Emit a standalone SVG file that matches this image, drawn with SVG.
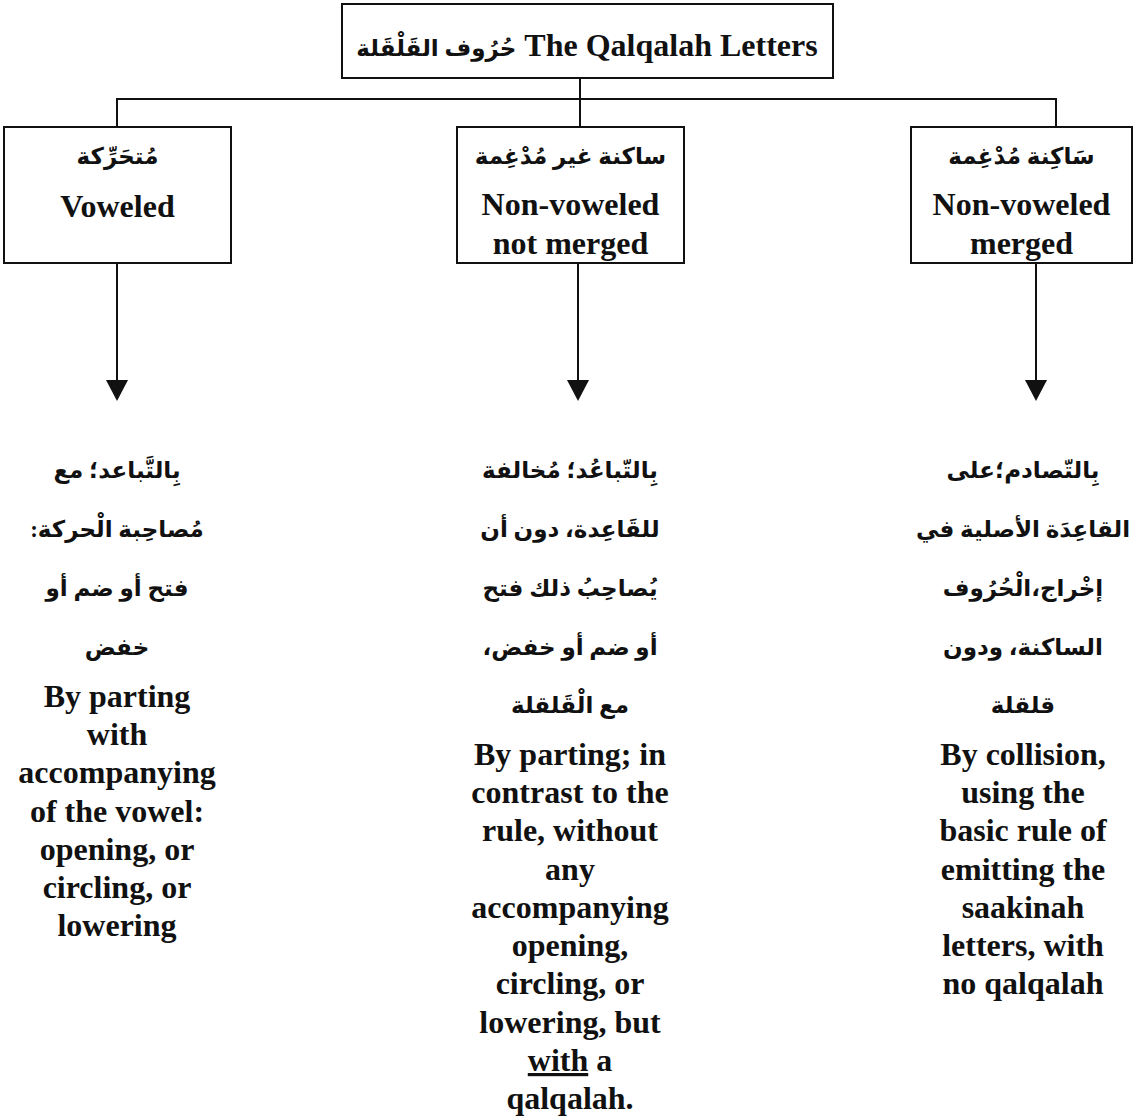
<svg xmlns="http://www.w3.org/2000/svg" width="1142" height="1117" viewBox="0 0 1142 1117">
<defs>
<style>
.box{fill:#fff;stroke:#111;stroke-width:2}
.ln{fill:none;stroke:#111;stroke-width:2}
.en{font-family:"Liberation Serif","Times New Roman",serif;font-weight:bold;font-size:32px;fill:#111;text-anchor:middle}
.ar{font-family:"Liberation Serif","DejaVu Sans",serif;font-weight:bold;font-size:23px;fill:#111;text-anchor:middle;direction:rtl;unicode-bidi:embed}
.ah{fill:#111}
</style>
</defs>
<rect width="1142" height="1117" fill="#fff"/>
<g id="connectors">
<path class="ln" d="M580,78 V127"/>
<path class="ln" d="M117,127 V99 H1056 V127"/>
<path class="ln" d="M117,263 V381"/>
<path class="ah" d="M106,380 L128,380 L117,401 Z"/>
<path class="ln" d="M578,263 V381"/>
<path class="ah" d="M567,380 L589,380 L578,401 Z"/>
<path class="ln" d="M1036,263 V381"/>
<path class="ah" d="M1025,380 L1047,380 L1036,401 Z"/>
</g>
<g id="title">
<rect class="box" x="342" y="4" width="491" height="74"/>
<text class="en" x="587" y="56"><tspan font-family="'Liberation Serif','DejaVu Sans',serif" font-size="23">حُرُوف القَلْقَلة</tspan> The Qalqalah Letters</text>
</g>
<g id="voweled">
<rect class="box" x="4" y="127" width="227" height="136"/>
<text class="ar" x="117.5" y="164">مُتحَرِّكة</text>
<text class="en" x="117.5" y="217">Voweled</text>
</g>
<g id="not-merged">
<rect class="box" x="457" y="127" width="227" height="136"/>
<text class="ar" x="570.5" y="164">ساكنة غير مُدْغِمة</text>
<text class="en" x="570.5" y="215">Non-voweled</text>
<text class="en" x="570.5" y="254">not merged</text>
</g>
<g id="merged">
<rect class="box" x="911" y="127" width="221" height="136"/>
<text class="ar" x="1021.5" y="164">سَاكِنة مُدْغِمة</text>
<text class="en" x="1021.5" y="215">Non-voweled</text>
<text class="en" x="1021.5" y="254">merged</text>
</g>
<g id="desc-voweled">
<text class="ar" x="117" y="478">بِالتَّباعد؛ مع</text>
<text class="ar" x="117" y="537">مُصاحِبة الْحركة:</text>
<text class="ar" x="117" y="596">فتح أو ضم أو</text>
<text class="ar" x="117" y="655">خفض</text>
<text class="en" x="117" y="707">By parting</text>
<text class="en" x="117" y="745">with</text>
<text class="en" x="117" y="783">accompanying</text>
<text class="en" x="117" y="822">of the vowel:</text>
<text class="en" x="117" y="860">opening, or</text>
<text class="en" x="117" y="898">circling, or</text>
<text class="en" x="117" y="936">lowering</text>
</g>
<g id="desc-not-merged">
<text class="ar" x="570" y="478">بِالتّباعُد؛ مُخالفة</text>
<text class="ar" x="570" y="537">للقَاعِدة، دون أن</text>
<text class="ar" x="570" y="596">يُصاحِبُ ذلك فتح</text>
<text class="ar" x="570" y="655">أو ضم أو خفض،</text>
<text class="ar" x="570" y="713">مع الْقَلقلة</text>
<text class="en" x="570" y="765">By parting; in</text>
<text class="en" x="570" y="803">contrast to the</text>
<text class="en" x="570" y="841">rule, without</text>
<text class="en" x="570" y="880">any</text>
<text class="en" x="570" y="918">accompanying</text>
<text class="en" x="570" y="956">opening,</text>
<text class="en" x="570" y="994">circling, or</text>
<text class="en" x="570" y="1033">lowering, but</text>
<text class="en" x="570" y="1071"><tspan text-decoration="underline">with</tspan> a</text>
<text class="en" x="570" y="1109">qalqalah.</text>
</g>
<g id="desc-merged">
<text class="ar" x="1023" y="478">بِالتّصادم؛على</text>
<text class="ar" x="1023" y="537">القاعِدَة الأصلية في</text>
<text class="ar" x="1023" y="596">إخْراج،الْحُرُوف</text>
<text class="ar" x="1023" y="655">الساكنة، ودون</text>
<text class="ar" x="1023" y="713">قلقلة</text>
<text class="en" x="1023" y="765">By collision,</text>
<text class="en" x="1023" y="803">using the</text>
<text class="en" x="1023" y="841">basic rule of</text>
<text class="en" x="1023" y="880">emitting the</text>
<text class="en" x="1023" y="918">saakinah</text>
<text class="en" x="1023" y="956">letters, with</text>
<text class="en" x="1023" y="994">no qalqalah</text>
</g>
</svg>
